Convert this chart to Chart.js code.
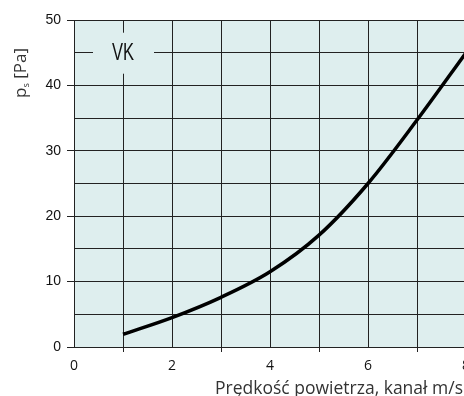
<!DOCTYPE html>
<html>
<head>
<meta charset="utf-8">
<script src="https://cdn.jsdelivr.net/npm/chart.js@4"></script>
<style>
  html, body { margin: 0; padding: 0; background: #fff; overflow: hidden; }
  #wrap { width: 480px; height: 396px; }
</style>
</head>
<body>
<div id="wrap"><canvas id="chart" width="480" height="396"></canvas></div>
<script>
'use strict';

// air velocity in duct (m/s) and static pressure drop (Pa)
const velocity = [1, 2, 3, 4, 5, 6, 7, 8];
const pressure = [1.95, 4.5, 7.6, 11.5, 17.1, 25.0, 34.7, 45.0];

const xLabels = [0, 2, 4, 6, 8];
const yLabels = [0, 10, 20, 30, 40, 50];

const seriesName = 'VK';
const xTitle = 'Prędkość powietrza, kanał m/s';
const yTitle = ['p', 's', ' [Pa]'];

const PLOT_BG = '#deeeee';
const GRID = '#222';

const plotDecor = {
    id: 'plotDecor',
    beforeDraw(chart) {
        const { ctx, chartArea: a } = chart;
        ctx.save();
        ctx.fillStyle = PLOT_BG;
        ctx.fillRect(a.left, a.top, a.right - a.left, a.bottom - a.top);
        ctx.restore();
    },
    beforeDatasetsDraw(chart) {
        const { ctx, scales } = chart;
        const cx = scales.x.getPixelForValue(1);
        const cy = scales.y.getPixelForValue(45);
        ctx.save();
        // label box cuts the grid lines around it
        ctx.fillStyle = PLOT_BG;
        ctx.fillRect(cx - 30, cy - 20, 61, 41);
        ctx.fillStyle = '#111';
        ctx.font = '23px "Liberation Sans", sans-serif';
        ctx.textAlign = 'center';
        ctx.textBaseline = 'alphabetic';
        ctx.translate(cx, cy + 7);
        ctx.scale(0.72, 1);
        ctx.fillText(seriesName, 0, 0);
        ctx.restore();
    },
    afterDraw(chart) {
        const { ctx } = chart;
        ctx.save();
        ctx.fillStyle = '#333';

        // x axis title, right aligned at the window edge
        ctx.font = '17.5px "Open Sans", sans-serif';
        ctx.textAlign = 'right';
        ctx.textBaseline = 'alphabetic';
        ctx.fillText(xTitle, 463, 394);

        // rotated y axis title with subscript
        ctx.translate(21, 73);
        ctx.rotate(-Math.PI / 2);
        ctx.textAlign = 'left';
        const big = '17px "Open Sans", sans-serif';
        const small = '9px "Open Sans", sans-serif';
        ctx.font = big;
        const w0 = ctx.measureText(yTitle[0]).width;
        const w2 = ctx.measureText(yTitle[2]).width;
        ctx.font = small;
        const w1 = ctx.measureText(yTitle[1]).width;
        let x = -(w0 + w1 + w2) / 2;
        ctx.font = big;
        ctx.fillText(yTitle[0], x, 5);
        x += w0;
        ctx.font = small;
        ctx.fillText(yTitle[1], x, 8);
        x += w1;
        ctx.font = big;
        ctx.fillText(yTitle[2], x, 5);
        ctx.restore();
    }
};

new Chart(document.getElementById('chart'), {
    type: 'line',
    data: {
        datasets: [{
            label: seriesName,
            data: velocity.map((v, i) => ({ x: v, y: pressure[i] })),
            borderColor: '#000',
            borderWidth: 3.5,
            pointRadius: 0,
            cubicInterpolationMode: 'monotone',
            fill: false
        }]
    },
    options: {
        responsive: false,
        animation: false,
        layout: { padding: { top: 20, right: 14, left: 0, bottom: 0 } },
        plugins: {
            legend: { display: false },
            tooltip: { enabled: false }
        },
        scales: {
            x: {
                type: 'linear',
                min: 0,
                max: 8,
                border: { display: true, color: GRID, width: 1 },
                grid: {
                    color: GRID,
                    lineWidth: 1,
                    tickLength: 5,
                    tickColor: c => (c.tick && c.tick.value % 2 === 1 ? GRID : 'rgba(0,0,0,0)')
                },
                ticks: {
                    stepSize: 1,
                    padding: 6,
                    maxRotation: 0,
                    color: '#111',
                    font: { family: '"Open Sans", sans-serif', size: 14 },
                    callback: v => (xLabels.includes(v) ? String(v) : '')
                },
                afterFit(scale) { scale.height = 49; }
            },
            y: {
                type: 'linear',
                min: 0,
                max: 50,
                border: { display: true, color: GRID, width: 1 },
                grid: {
                    color: GRID,
                    lineWidth: 1,
                    tickLength: 7,
                    tickColor: c => (c.tick && c.tick.value % 10 === 0 ? GRID : 'rgba(0,0,0,0)')
                },
                ticks: {
                    stepSize: 5,
                    padding: 6,
                    color: '#111',
                    font: { family: '"Liberation Sans", sans-serif', size: 14 },
                    callback: v => (yLabels.includes(v) ? String(v) : '')
                },
                afterFit(scale) { scale.width = 74; }
            }
        }
    },
    plugins: [plotDecor]
});
</script>
</body>
</html>
